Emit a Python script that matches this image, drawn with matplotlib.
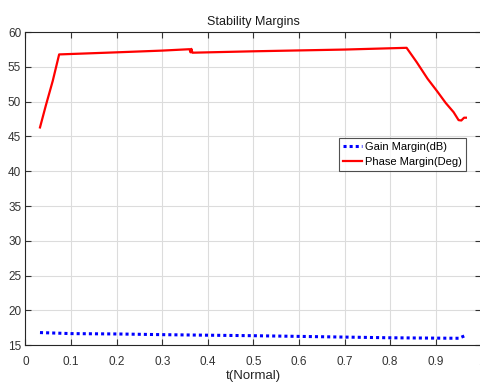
import numpy as np
import matplotlib.pyplot as plt

plt.rcParams['font.family'] = ['Liberation Sans', 'DejaVu Sans']

# phase margin (deg)
t_phase = [0.032, 0.045, 0.06, 0.074, 0.2, 0.30, 0.360, 0.362, 0.364, 0.366, 0.368,
           0.5, 0.7, 0.836, 0.858, 0.882, 0.903, 0.922, 0.939, 0.950, 0.956, 0.962, 0.966]
phase = [46.3, 49.5, 53.0, 56.8, 57.1, 57.35, 57.55, 57.1, 57.6, 57.05, 57.05,
         57.25, 57.5, 57.75, 55.7, 53.3, 51.5, 49.8, 48.5, 47.35, 47.3, 47.7, 47.7]

# gain margin (dB)
t_gain = [0.032, 0.1, 0.2, 0.3, 0.4, 0.5, 0.6, 0.7, 0.8, 0.9, 0.95, 0.966]
gain = [16.8, 16.65, 16.6, 16.5, 16.42, 16.35, 16.25, 16.15, 16.05, 16.0, 15.98, 16.4]

fig = plt.figure(figsize=(4.81, 3.83), dpi=100)
ax = fig.add_axes([0.0528, 0.099, 0.948, 0.817])

ax.plot(t_gain, gain, color='blue', linestyle=(0, (1, 1)), lw=2.2,
        label='Gain Margin(dB)')
ax.plot(t_phase, phase, color='red', lw=1.6, label='Phase Margin(Deg)')

ax.set_xlim(0, 1)
ax.set_ylim(15, 60)
ax.set_xticks(np.arange(0, 1.01, 0.1))
ax.set_xticklabels(['0', '0.1', '0.2', '0.3', '0.4', '0.5', '0.6', '0.7', '0.8', '0.9', '1'])
ax.set_yticks(np.arange(15, 61, 5))
ax.grid(True, color='#dcdcdc', lw=0.8)
ax.tick_params(direction='in', length=4, labelsize=8.5, colors='#333333',
               top=True, right=True)
ax.tick_params(axis='x', pad=8)
ax.tick_params(axis='y', pad=3)
for s in ax.spines.values():
    s.set_color('#262626')
    s.set_linewidth(0.8)

ax.set_title('Stability Margins', fontsize=9, color='#1a1a1a', pad=5)
ax.set_xlabel('t(Normal)', fontsize=9.5, color='#262626', labelpad=1)

leg = ax.legend(loc='upper left', bbox_to_anchor=(0.675, 0.68), fontsize=8,
                frameon=True, fancybox=False, handlelength=1.7,
                borderpad=0.35, labelspacing=0.5, handletextpad=0.3,
                borderaxespad=0.5)
leg.get_frame().set_edgecolor('#262626')
leg.get_frame().set_linewidth(0.8)

fig.savefig('out.png', dpi=100)
